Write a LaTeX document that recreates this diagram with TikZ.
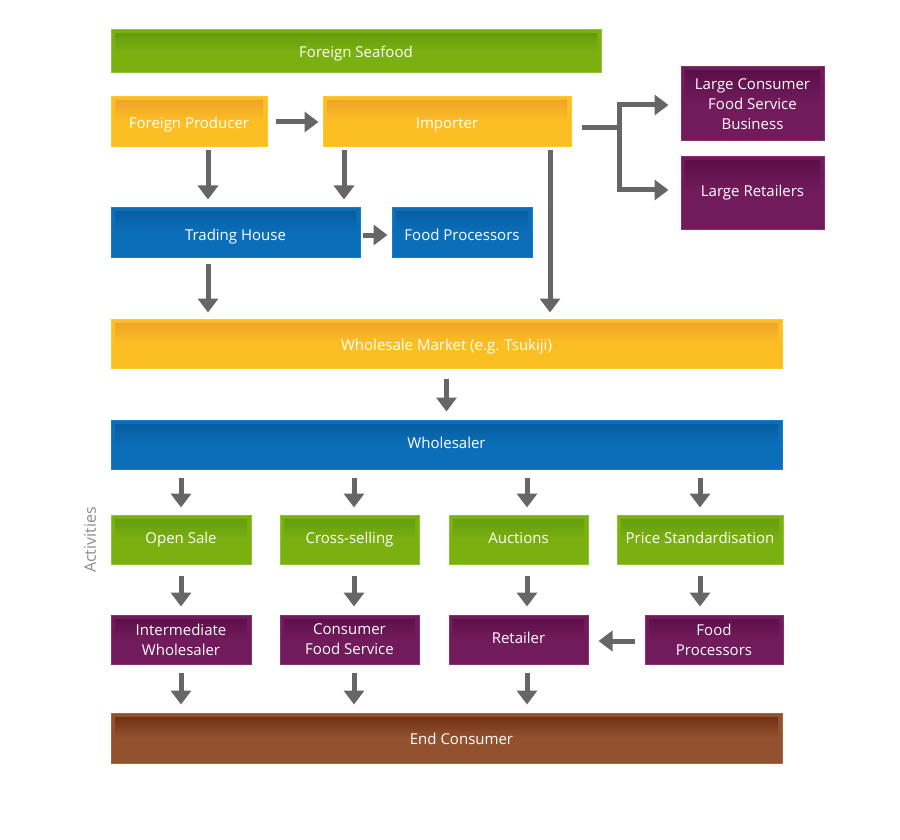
\documentclass[tikz,border=0pt]{standalone}
\usepackage{fontspec}
\setmainfont{Open Sans}
\usetikzlibrary{arrows.meta,calc}
\definecolor{grnM}{HTML}{7AB010}
\definecolor{grnD}{HTML}{62990D}
\definecolor{grnL}{HTML}{8CC43A}
\definecolor{ylwM}{HTML}{FCBF23}
\definecolor{ylwD}{HTML}{EE9F2A}
\definecolor{ylwL}{HTML}{FFC82A}
\definecolor{bluM}{HTML}{0A6EB8}
\definecolor{bluD}{HTML}{075A9C}
\definecolor{bluL}{HTML}{1A7CC4}
\definecolor{purM}{HTML}{721B5C}
\definecolor{purD}{HTML}{5A0E47}
\definecolor{purL}{HTML}{86306F}
\definecolor{brnM}{HTML}{93522F}
\definecolor{brnD}{HTML}{6A2A0E}
\definecolor{brnL}{HTML}{A5633F}
\definecolor{arrgray}{HTML}{666666}
\definecolor{labgray}{HTML}{8C8C8C}
\tikzset{
  base/.style={rectangle, inner sep=2pt, text=white, align=center,
    font=\fontsize{15}{20}\selectfont},
  shbox/.style n args={3}{base, fill=#1, draw=#3, line width=1pt,
    path picture={\shade[top color=#2, bottom color=#1, middle color=#1]
      ([xshift=4pt,yshift=-4pt]path picture bounding box.north west) rectangle
      ([xshift=-4pt,yshift=4pt]path picture bounding box.south east);}},
  gbox/.style={shbox={grnM}{grnD}{grnL}},
  ybox/.style={shbox={ylwM}{ylwD}{ylwL}},
  bbox/.style={shbox={bluM}{bluD}{bluL}},
  pbox/.style={shbox={purM}{purD}{purL}},
  rbox/.style={shbox={brnM}{brnD}{brnL}},
  one/.style={text height=13pt, text depth=0pt},
  onehi/.style={text height=7pt, text depth=0pt},
  onelo/.style={text height=17pt, text depth=0pt},
  sz/.style 2 args={minimum width=#1pt, minimum height=#2pt},
  arr/.style={draw=arrgray, line width=5pt, -{Triangle[width=20pt,length=14pt]}},
  ln/.style={draw=arrgray, line width=5pt},
}
\begin{document}
\begin{tikzpicture}[x=1pt,y=-1pt]
\fill[white] (0,0) rectangle (900,840);
\useasboundingbox (0,0) rectangle (900,840);

\node[gbox, one, sz={490}{43}] (fs) at (356,51.5) {Foreign Seafood};
\node[ybox, one, sz={156}{50}] (fp) at (189,122) {Foreign Producer};
\node[ybox, one, sz={248}{50}] (imp) at (447,122) {Importer};
\node[pbox, sz={143}{74}] (lcf) at (752.5,104) {Large Consumer\\Food Service\\Business};
\node[pbox, onehi, sz={143}{72}] (lr) at (752.5,193) {Large Retailers};
\node[bbox, onelo, sz={249}{50}] (th) at (235.5,232) {Trading House};
\node[bbox, onelo, sz={140}{50}] (fproc) at (462,232) {Food Processors};
\node[ybox, one, sz={671}{49}] (wm) at (446.5,343.5) {Wholesale Market (e.g. Tsukiji)};
\node[bbox, onehi, sz={671}{49}] (ws) at (446.5,444.5) {Wholesaler};
\node[gbox, onehi, sz={140}{49}] (os) at (181,539.5) {Open Sale};
\node[gbox, onehi, sz={139}{49}] (cs) at (349.5,539.5) {Cross-selling};
\node[gbox, onehi, sz={139}{49}] (auc) at (518.5,539.5) {Auctions};
\node[gbox, onehi, sz={166}{49}] (ps) at (700,539.5) {Price Standardisation};
\node[pbox, sz={140}{49}] (iw) at (181,639.5) {Intermediate\\Wholesaler};
\node[pbox, sz={139}{49}] (cfs) at (349.5,639.5) {Consumer\\Food Service};
\node[pbox, onehi, sz={139}{49}] (ret) at (518.5,639.5) {Retailer};
\node[pbox, sz={138}{49}] (fp2) at (714,639.5) {Food\\Processors};
\node[rbox, one, sz={671}{50}] (ec) at (446.5,738) {\hspace*{30pt}End Consumer};
\node[text=labgray, rotate=90, font=\fontsize{16}{18}\selectfont] (act) at (90,540) {Activities};

% top section
\draw[arr] ($(fp.east)+(8,0)$) -- ($(imp.west)+(-4,0)$);
\draw[arr] ($(fp.south)+(19,3)$) -- ($(th.north)+(-27.5,-7)$);
\draw[arr] ($(imp.south)+(-103,3)$) -- ($(th.north)+(108.5,-7)$);
\draw[arr] ($(imp.south)+(103,3)$) -- ($(wm.north)+(103.5,-6)$);
\draw[arr] ($(th.south)+(-27.5,6)$) -- ($(wm.north)+(-238.5,-6)$);
\draw[arr] ($(th.east)+(2,3)$) -- ($(fproc.west)+(-4,3)$);
\draw[ln] ($(imp.east)+(10,6)$) -- ++(38,0) coordinate (j);
\draw[arr] (j) |- ($(lcf.west)+(-12,1)$);
\draw[arr] (j) |- ($(lr.west)+(-12,-3)$);
\draw[arr] ($(wm.south)+(0,10)$) -- ($(ws.north)+(0,-8)$);

% activities
\foreach \n/\dx in {os/0,cs/4.5,auc/8.5,ps/0}{
  \draw[arr] ($(ws.south -| \n.north)+(\dx,8)$) -- ($(\n.north)+(\dx,-7)$);
}
\draw[arr] ($(os.south)+(0,11)$) -- ($(os.south |- iw.north)+(0,-8)$);
\draw[arr] ($(cs.south)+(4.5,11)$) -- ($(cs.south |- cfs.north)+(4.5,-8)$);
\draw[arr] ($(auc.south)+(8.5,11)$) -- ($(auc.south |- ret.north)+(8.5,-8)$);
\draw[arr] ($(ps.south)+(0,11)$) -- ($(ps.south |- fp2.north)+(0,-8)$);
\draw[arr] ($(fp2.west)+(-10,1.5)$) -- ($(ret.east)+(10,1.5)$);

% to end consumer
\draw[arr] ($(iw.south)+(0,8)$) -- ($(iw.south |- ec.north)+(0,-8)$);
\draw[arr] ($(cfs.south)+(4.5,8)$) -- ($(cfs.south |- ec.north)+(4.5,-8)$);
\draw[arr] ($(ret.south)+(8.5,8)$) -- ($(ret.south |- ec.north)+(8.5,-8)$);
\end{tikzpicture}
\end{document}
